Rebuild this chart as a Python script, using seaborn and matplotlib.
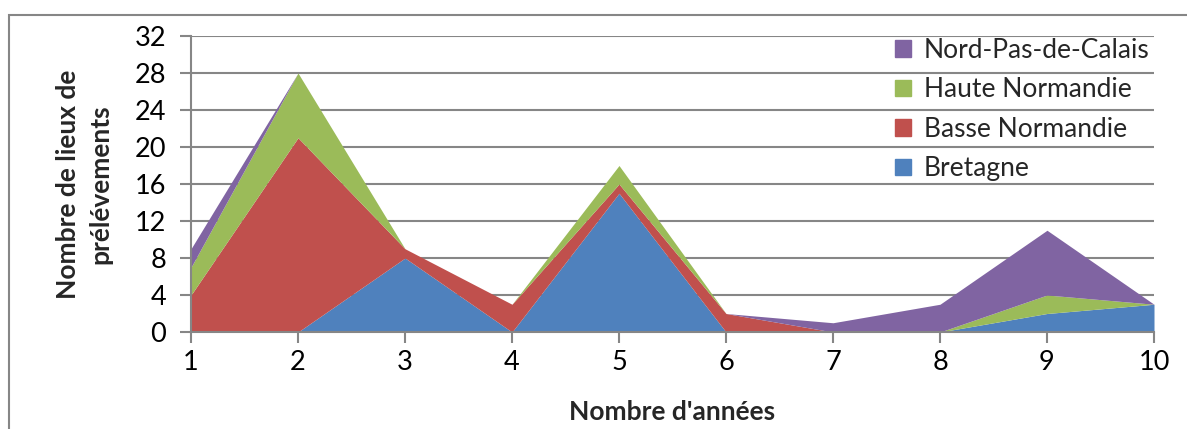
import numpy as np
import matplotlib
matplotlib.use("Agg")
import matplotlib.pyplot as plt
from matplotlib.patches import Rectangle, Patch
import seaborn as sns

sns.set_theme(style="white")
plt.rcParams["font.family"] = ["Lato", "DejaVu Sans"]

# data
years = [1, 2, 3, 4, 5, 6, 7, 8, 9, 10]
bretagne = [0, 0, 8, 0, 15, 0, 0, 0, 2, 3]
basse_normandie = [4, 21, 1, 3, 1, 2, 0, 0, 0, 0]
haute_normandie = [3, 7, 0, 0, 2, 0, 0, 0, 2, 0]
nord_pas_de_calais = [2, 0, 0, 0, 0, 0, 1, 3, 7, 0]

series = ["Bretagne", "Basse Normandie", "Haute Normandie", "Nord-Pas-de-Calais"]
colors = ["#4F81BD", "#C0504D", "#9BBB59", "#8064A2"]
yticks = [0, 4, 8, 12, 16, 20, 24, 28, 32]

W, H = 1187, 429
fig = plt.figure(figsize=(W / 100, H / 100), dpi=100)
ax = fig.add_axes([191 / W, 1 - 332 / H, (1154 - 191) / W, (332 - 36) / H])

# chart frame
fig.patches.append(Rectangle((9 / W, -0.1), 1.2, 1 - 15 / H + 0.1,
                             transform=fig.transFigure, fill=False,
                             edgecolor="#868686", linewidth=1.5))

grid_c = "#868686"
for y in yticks[1:]:
    ax.axhline(y, color=grid_c, lw=1.5, zorder=0)

ax.stackplot(years, bretagne, basse_normandie, haute_normandie, nord_pas_de_calais,
             colors=colors, linewidth=0, zorder=2)

ax.set_xlim(1, 10)
ax.set_ylim(0, 32)
ax.set_yticks(yticks)
ax.set_xticks(years)
for s in ["top", "right"]:
    ax.spines[s].set_visible(False)
for s in ["left", "bottom"]:
    ax.spines[s].set_color(grid_c)
    ax.spines[s].set_linewidth(1.5)
    ax.spines[s].set_zorder(3)
ax.tick_params(axis="both", which="both", direction="out", length=8, width=1.5,
               color=grid_c, labelsize=19.5, labelcolor="black")
ax.tick_params(axis="x", pad=5, bottom=True)
ax.tick_params(axis="y", pad=10, left=True)

ax.set_xlabel("Nombre d'années", fontsize=19, fontweight="bold", labelpad=18)
ax.set_ylabel("Nombre de lieux de\nprélévements", fontsize=19, fontweight="bold",
              labelpad=16, linespacing=1.4)

handles = [Patch(color=c, label=l) for c, l in zip(colors, series)][::-1]
leg = ax.legend(handles=handles, loc="upper left", bbox_to_anchor=(0.72, 1.03),
                frameon=False, fontsize=19, handlelength=0.6, handleheight=0.6,
                handletextpad=0.5, labelspacing=0.55, borderaxespad=0)

fig.savefig("out.png", dpi=100)
